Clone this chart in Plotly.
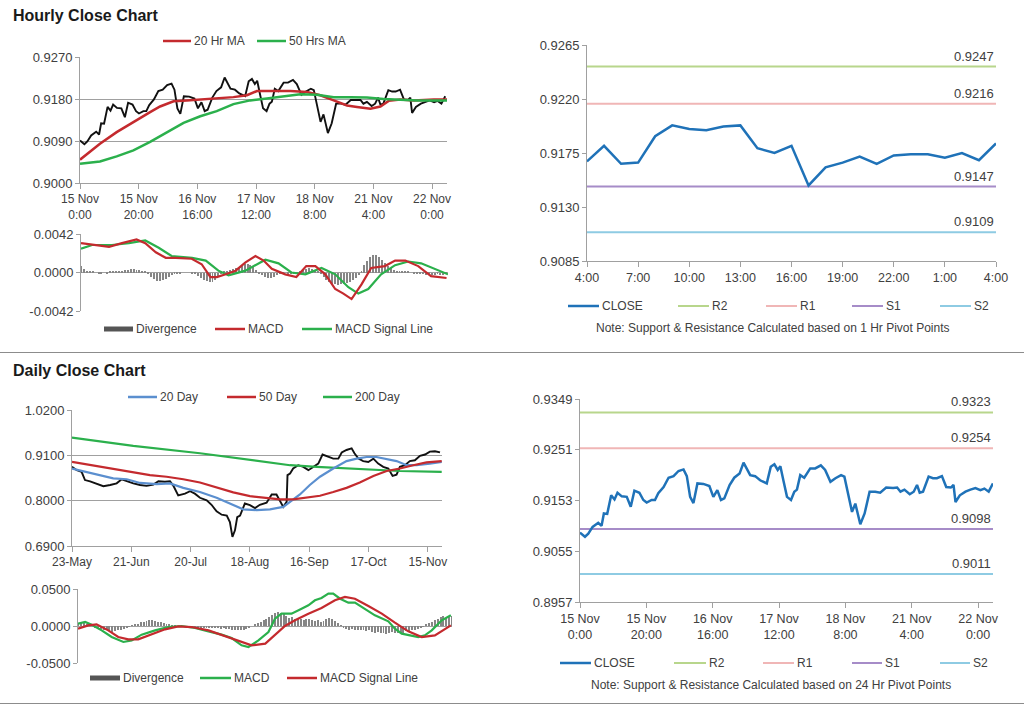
import plotly.graph_objects as go

W, H = 1024, 706
def px(x): return x / W
def py(y): return 1 - y / H

# ---------------- DATA ----------------
# Hourly axis (index of hour bars, weekend skipped)
hour_ticks = [0, 20, 40, 60, 80, 100, 120]
hour_tick_text = ["15 Nov<br>0:00", "15 Nov<br>20:00", "16 Nov<br>16:00", "17 Nov<br>12:00",
                  "18 Nov<br>8:00", "21 Nov<br>4:00", "22 Nov<br>0:00"]

hr_x = [0, 1.5, 2.5, 3.8, 5.5, 6.5, 7.2, 8.2, 9.4, 10.4,
        11.3, 12.6, 14.1, 15.3, 16.4, 17.9, 19.1, 20.1, 21.6, 22.6,
        23.6, 25.2, 26.7, 28.2, 29.7, 31.2, 32.2, 33.2, 34.2, 35.4,
        37.2, 39.0, 40.2, 41.4, 42.5, 43.5, 45.1, 46.5, 48.1, 49.3,
        51.3, 52.8, 54.3, 56.3, 57.5, 58.6, 59.6, 60.4, 61.4, 62.4,
        63.6, 64.6, 65.4, 66.4, 67.6, 69.4, 70.9, 72.6, 73.9, 75.5,
        77.0, 78.7, 79.7, 80.7, 82.0, 83.0, 83.7, 84.5, 85.8, 87.3,
        89.0, 90.5, 92.3, 94.4, 95.6, 96.6, 97.8, 99.4, 100.6, 101.6,
        102.4, 103.4, 105.1, 106.4, 107.6, 109.1, 110.4, 111.8, 112.6, 113.2,
        114.5, 116.2, 117.7, 119.2, 120.7, 121.9, 123.2, 124.5]
hr_close = [0.9091, 0.9083, 0.9089, 0.9102, 0.9110, 0.9104, 0.9128, 0.9127, 0.9163, 0.9155,
            0.9168, 0.9161, 0.9160, 0.9141, 0.9172, 0.9168, 0.9154, 0.9149, 0.9154, 0.9154,
            0.9167, 0.9179, 0.9197, 0.9200, 0.9210, 0.9213, 0.9200, 0.9160, 0.9148, 0.9186,
            0.9185, 0.9181, 0.9160, 0.9173, 0.9154, 0.9157, 0.9183, 0.9197, 0.9205, 0.9226,
            0.9202, 0.9200, 0.9192, 0.9186, 0.9218, 0.9223, 0.9212, 0.9219, 0.9189, 0.9160,
            0.9154, 0.9170, 0.9174, 0.9202, 0.9197, 0.9215, 0.9215, 0.9221, 0.9212, 0.9189,
            0.9196, 0.9202, 0.9199, 0.9167, 0.9131, 0.9147, 0.9129, 0.9107, 0.9128, 0.9170,
            0.9170, 0.9168, 0.9178, 0.9177, 0.9178, 0.9170, 0.9174, 0.9165, 0.9170, 0.9183,
            0.9168, 0.9170, 0.9199, 0.9196, 0.9196, 0.9200, 0.9179, 0.9178, 0.9183, 0.9150,
            0.9163, 0.9170, 0.9174, 0.9177, 0.9173, 0.9176, 0.9170, 0.9186]

ma20_hr_x = [0, 6.8, 12.5, 18.2, 23.9, 27.3, 31.9, 36.4, 43.2, 47.8, 52.3, 56.9, 60.3, 66.0,
             71.7, 77.4, 81.9, 86.5, 91.0, 94.4, 99.0, 102.4, 105.2, 109.2, 113.8, 120.6, 125.1]
ma20_hr = [0.9050, 0.9084, 0.9109, 0.9131, 0.9152, 0.9164, 0.9175, 0.9177, 0.9180, 0.9182,
           0.9184, 0.9188, 0.9197, 0.9197, 0.9197, 0.9195, 0.9188, 0.9177, 0.9166, 0.9163,
           0.9159, 0.9164, 0.9176, 0.9179, 0.9177, 0.9179, 0.9179]
ma50_hr_x = [0, 6.8, 12.5, 18.2, 23.9, 29.6, 35.3, 41.0, 46.6, 52.3, 58.0, 63.7, 69.4, 75.1,
             80.8, 86.5, 92.2, 97.8, 103.5, 109.2, 114.9, 125.1]
ma50_hr = [0.9041, 0.9046, 0.9057, 0.9070, 0.9088, 0.9109, 0.9129, 0.9143, 0.9154, 0.9169,
           0.9177, 0.9181, 0.9186, 0.9190, 0.9189, 0.9184, 0.9184, 0.9183, 0.9180, 0.9179,
           0.9177, 0.9177]

macd_hr_x = [0, 6, 9.6, 14, 19, 22, 25.6, 29, 32.4, 37.9, 41.3, 44.3, 46.5, 49.5, 52.9, 56.3,
             59.7, 62.5, 65.3, 69.9, 73.7, 77.1, 80.2, 83.6, 87, 89.8, 92.6, 96, 99.3, 104,
             107.5, 111, 115.4, 119.8, 125.1]
macd_hr = [0.0032, 0.0030, 0.0028, 0.0032, 0.0036, 0.0032, 0.0022, 0.0016, 0.0016, 0.0015,
           0.0009, -0.0005, -0.0005, -0.0002, 0.0002, 0.0011, 0.0018, 0.0013, 0.0004, -0.0002,
           -0.0005, 0.0007, 0.0007, -0.0002, -0.0018, -0.0023, -0.0029, -0.0013, 0.0005, 0.0007,
           0.0013, 0.0013, 0.0007, -0.0004, -0.0006]
signal_hr_x = [0, 3.8, 10.6, 16.4, 22, 26.6, 31, 38, 42.7, 47, 50.5, 56.3, 63.1, 67.6, 72,
               76.8, 82.3, 87, 91.5, 94.9, 98.3, 102.7, 107.5, 112, 116.4, 121.2, 125.6]
signal_hr = [0.0026, 0.0030, 0.0030, 0.0032, 0.0035, 0.0027, 0.0018, 0.0016, 0.0013, 0.0002,
             -0.0003, 0.0002, 0.0014, 0.0010, 0.0000, -0.0002, 0.0005, -0.0002, -0.0016, -0.0023,
             -0.0018, -0.0002, 0.0008, 0.0012, 0.0010, 0.0004, -0.0002]
divergence_hr = [0.0007, 0.0004, 0.0002, 0.0001, 0.0001, 0.0, -0.0001, -0.0001, 0.0, -0.0001,
                 0.0001, 0.0001, 0.0001, 0.0002, 0.0002, 0.0003, 0.0003, 0.0004, 0.0004, 0.0003,
                 0.0003, 0.0002, 0.0001, -0.0002, -0.0005, -0.0007, -0.0009, -0.0009, -0.0008, -0.0007,
                 -0.0005, -0.0003, -0.0002, -0.0001, -0.0001, 0.0, 0.0, 0.0, -0.0001, -0.0002,
                 -0.0004, -0.0006, -0.0008, -0.0009, -0.0010, -0.0010, -0.0008, -0.0005, -0.0002, 0.0001,
                 0.0002, 0.0003, 0.0004, 0.0005, 0.0006, 0.0008, 0.0009, 0.0009, 0.0008, 0.0006,
                 0.0003, -0.0001, -0.0003, -0.0005, -0.0006, -0.0006, -0.0005, -0.0003, -0.0002, -0.0001,
                 0.0, -0.0001, -0.0002, -0.0002, -0.0001, 0.0001, 0.0003, 0.0004, 0.0005, 0.0004,
                 0.0003, 0.0001, -0.0002, -0.0005, -0.0008, -0.0010, -0.0012, -0.0013, -0.0014, -0.0013,
                 -0.0012, -0.0011, -0.0010, -0.0008, -0.0006, -0.0003, 0.0002, 0.0008, 0.0013, 0.0017,
                 0.0019, 0.0019, 0.0017, 0.0014, 0.0010, 0.0007, 0.0005, 0.0003, 0.0002, 0.0002,
                 0.0001, 0.0001, 0.0001, 0.0, -0.0001, -0.0001, -0.0002, -0.0002, -0.0003, -0.0002,
                 -0.0003, -0.0003, -0.0002, -0.0003, -0.0003, -0.0002]

# Last 24 hours (hourly pivot chart)
last24_hours = ["4:00", "5:00", "6:00", "7:00", "8:00", "9:00", "10:00", "11:00", "12:00",
                "13:00", "14:00", "15:00", "16:00", "17:00", "18:00", "19:00", "20:00", "21:00",
                "22:00", "23:00", "0:00", "1:00", "2:00", "3:00", "4:00"]
last24_close = [0.9168, 0.9181, 0.9166, 0.9167, 0.9189, 0.9198, 0.9195, 0.9194, 0.9197,
                0.9198, 0.9179, 0.9175, 0.9181, 0.9148, 0.9163, 0.9167, 0.9172, 0.9166,
                0.9173, 0.9174, 0.9174, 0.9171, 0.9175, 0.9169, 0.9183]

pivot_names = ["R2", "R1", "S1", "S2"]
pivot_1hr = [0.9247, 0.9216, 0.9147, 0.9109]
pivot_24hr = [0.9323, 0.9254, 0.9098, 0.9011]

# Daily chart
day_ticks = [0, 21, 42, 63, 84, 105, 126]
day_tick_text = ["23-May", "21-Jun", "20-Jul", "18-Aug", "16-Sep", "17-Oct", "15-Nov"]

day_x = [0, 1.7, 3.4, 4.6, 6.4, 8.7, 11.1, 13.5, 15.8, 17.6,
         19.4, 21.7, 24.1, 26.4, 28.8, 30.6, 32.9, 34.7, 35.9, 37.6,
         40, 41.8, 43.5, 45.3, 47.7, 49.4, 51.2, 53, 54.8, 55.9,
         56.8, 57.7, 58.5, 59.5, 61.2, 63, 64.8, 66.5, 68.9, 70.7,
         72.4, 73.6, 74.8, 76, 76.3, 77.2, 78.3, 80.1, 81.9, 83.7,
         85.4, 87.2, 88.7, 90.7, 92.5, 94.3, 95.5, 97.2, 99, 100,
         101.4, 103.1, 104.9, 106.7, 108.4, 110.2, 112, 113.5, 114.9, 116.1,
         117.9, 119.6, 121.4, 123.2, 125, 126.7, 128.5, 130.3]
day_close = [0.882, 0.874, 0.870, 0.850, 0.847, 0.842, 0.835, 0.838, 0.842, 0.852,
             0.847, 0.842, 0.838, 0.836, 0.839, 0.847, 0.846, 0.847, 0.836, 0.813,
             0.817, 0.823, 0.817, 0.807, 0.801, 0.790, 0.774, 0.766, 0.764, 0.748,
             0.712, 0.728, 0.760, 0.764, 0.793, 0.789, 0.782, 0.790, 0.795, 0.815,
             0.815, 0.799, 0.785, 0.797, 0.862, 0.866, 0.878, 0.886, 0.882, 0.874,
             0.882, 0.890, 0.912, 0.906, 0.902, 0.902, 0.917, 0.923, 0.927, 0.915,
             0.902, 0.896, 0.894, 0.902, 0.890, 0.882, 0.878, 0.860, 0.863, 0.882,
             0.886, 0.896, 0.898, 0.909, 0.912, 0.919, 0.920, 0.917]

ma20_day_x = [0, 5.2, 9.9, 14.6, 19.4, 24.1, 30, 34.7, 39.4, 45.3, 51.2, 57.1, 60.6, 65.4,
              70.1, 74.8, 77.2, 80.7, 84.2, 87.8, 92.5, 97.2, 100.8, 104.3, 107.8, 111.4,
              114.9, 118.5, 122, 126.7, 130.9]
ma20_day = [0.878, 0.870, 0.863, 0.854, 0.852, 0.843, 0.840, 0.842, 0.831, 0.821, 0.807,
            0.789, 0.779, 0.777, 0.779, 0.785, 0.797, 0.815, 0.838, 0.858, 0.878, 0.896,
            0.902, 0.906, 0.906, 0.901, 0.896, 0.886, 0.886, 0.890, 0.894]
ma50_day_x = [0, 5.2, 9.9, 15.8, 21.7, 27.6, 33.5, 39.4, 45.3, 51.2, 57.1, 63, 68.9, 73.6,
              78.3, 83.1, 87.8, 92.5, 97.2, 101.9, 106.7, 111.4, 116.1, 120.8, 125.5, 130.9]
ma50_day = [0.894, 0.888, 0.882, 0.874, 0.868, 0.862, 0.858, 0.852, 0.844, 0.832, 0.820,
            0.811, 0.807, 0.803, 0.803, 0.807, 0.812, 0.821, 0.831, 0.844, 0.860, 0.872,
            0.878, 0.886, 0.893, 0.896]
ma200_day_x = [0, 21.7, 45.3, 68.9, 77.2, 86.6, 104.3, 116.1, 130.9]
ma200_day = [0.953, 0.933, 0.915, 0.894, 0.886, 0.882, 0.876, 0.872, 0.870]

macd_day_x = [0, 2.5, 4.8, 8.3, 11.8, 15.9, 18.8, 22.3, 27, 31.6, 36.3, 41, 45.7, 50.3,
              53.8, 57.3, 59.7, 63.2, 66.7, 69, 71.3, 74.8, 78.3, 80.7, 83, 85.3, 87.7,
              89.4, 91.8, 94.7, 97, 100.5, 104, 108.7, 111, 113.4, 115.7, 119.2, 121.5,
              123.9, 127.4, 130.6]
macd_day = [0.0032, 0.0054, 0.0018, -0.0059, -0.0149, -0.0216, -0.0194, -0.0117, -0.0059,
            -0.0014, 0.0, -0.0027, -0.0072, -0.0117, -0.0162, -0.0261, -0.0284, -0.0194,
            -0.0081, 0.0099, 0.0167, 0.0167, 0.0234, 0.0279, 0.0347, 0.0378, 0.0437, 0.0437,
            0.0369, 0.0315, 0.0315, 0.0234, 0.0144, 0.0063, -0.0036, -0.0104, -0.0126,
            -0.0149, -0.0126, -0.0059, 0.0077, 0.0144]
signal_day_x = [0, 3.6, 6.5, 10.6, 14.1, 17.6, 21.1, 25.8, 30.5, 35.1, 39.8, 45.7, 51.5,
                56.2, 60.8, 65.6, 69, 72.5, 76, 80.7, 85.3, 90, 93.5, 97, 101.7, 106.4, 111,
                115.7, 120.4, 125, 130.6]
signal_day = [-0.0036, 0.0009, 0.0023, -0.0059, -0.0149, -0.0180, -0.0180, -0.0117, -0.0045,
              -0.0005, -0.0014, -0.0059, -0.0135, -0.0207, -0.0261, -0.0239, -0.0126, 0.0,
              0.0077, 0.0167, 0.0243, 0.0347, 0.0392, 0.0369, 0.0270, 0.0167, 0.0045, -0.0072,
              -0.0149, -0.0126, 0.0009]
divergence_day = [0.003, 0.004, 0.004, 0.003, 0.002, 0.0, -0.002, -0.003, -0.004, -0.005,
                  -0.006, -0.007, -0.008, -0.007, -0.006, -0.005, -0.004, -0.002, -0.001, 0.001,
                  0.002, 0.003, 0.005, 0.006, 0.007, 0.008, 0.008, 0.007, 0.006, 0.005,
                  0.004, 0.003, 0.002, 0.001, 0.001, 0.0, 0.0, -0.001, -0.001, -0.001,
                  -0.002, -0.002, -0.002, -0.003, -0.002, -0.003, -0.003, -0.002, -0.003, -0.003,
                  -0.004, -0.003, -0.004, -0.004, -0.005, -0.005, -0.006, -0.006, -0.005, -0.004,
                  -0.002, 0.0, 0.002, 0.004, 0.006, 0.008, 0.010, 0.012, 0.015, 0.017,
                  0.019, 0.018, 0.016, 0.013, 0.011, 0.012, 0.010, 0.009, 0.009, 0.008,
                  0.009, 0.010, 0.008, 0.007, 0.008, 0.006, 0.007, 0.009, 0.011, 0.009,
                  0.007, 0.004, 0.001, -0.002, -0.004, -0.005, -0.004, -0.006, -0.005, -0.006,
                  -0.005, -0.007, -0.006, -0.008, -0.009, -0.008, -0.010, -0.009, -0.011, -0.010,
                  -0.008, -0.009, -0.010, -0.011, -0.009, -0.007, -0.008, -0.005, -0.006, -0.004,
                  -0.003, -0.001, 0.002, 0.004, 0.006, 0.008, 0.010, 0.012, 0.013, 0.011,
                  0.012, 0.013]

# ---------------- STYLE ----------------
FONT = "Liberation Sans, Arial, sans-serif"
TXT = "#404040"
AX = "#a0a0a0"
RED = "#c42a2e"
GREEN = "#2bb04c"
BLUE_MA = "#5b8fcf"
CLOSE_BLUE = "#1f72b8"
GRAY_BAR = "#868686"
PIVOT_COLORS = ["#b8d68c", "#f0b6b6", "#a68cc8", "#8ecbe3"]

fig = go.Figure()

def line(x, y, color, width, ax):
    fig.add_trace(go.Scatter(x=x, y=y, mode="lines", line=dict(color=color, width=width),
                             xaxis="x" + ax, yaxis="y" + ax, showlegend=False, hoverinfo="skip"))

# 1 - hourly price
line(hr_x, hr_close, "#111111", 1.9, "")
line(ma20_hr_x, ma20_hr, RED, 2.5, "")
line(ma50_hr_x, ma50_hr, GREEN, 2.5, "")
# 2 - hourly MACD
fig.add_trace(go.Bar(x=list(range(len(divergence_hr))), y=divergence_hr, width=0.33,
                     marker=dict(color=GRAY_BAR, line=dict(width=0)), xaxis="x2", yaxis="y2",
                     showlegend=False, hoverinfo="skip"))
line(signal_hr_x, signal_hr, GREEN, 2.2, "2")
line(macd_hr_x, macd_hr, RED, 2.2, "2")
# 3 - last 24 hours with pivots
for lvl, col in zip(pivot_1hr, PIVOT_COLORS):
    line([0, len(last24_close) - 1], [lvl, lvl], col, 2, "3")
line(list(range(len(last24_close))), last24_close, CLOSE_BLUE, 2.5, "3")
# 4 - daily price
line(day_x, day_close, "#111111", 1.9, "4")
line(ma200_day_x, ma200_day, GREEN, 2.2, "4")
line(ma20_day_x, ma20_day, BLUE_MA, 2.2, "4")
line(ma50_day_x, ma50_day, RED, 2.2, "4")
# 5 - daily MACD
fig.add_trace(go.Bar(x=list(range(len(divergence_day))), y=divergence_day, width=0.33,
                     marker=dict(color=GRAY_BAR, line=dict(width=0)), xaxis="x5", yaxis="y5",
                     showlegend=False, hoverinfo="skip"))
line(macd_day_x, macd_day, GREEN, 2.2, "5")
line(signal_day_x, signal_day, RED, 2.2, "5")
# 6 - hourly close with 24 hr pivots
for lvl, col in zip(pivot_24hr, PIVOT_COLORS):
    line([0, hr_x[-1]], [lvl, lvl], col, 2, "6")
line(hr_x, hr_close, CLOSE_BLUE, 2.5, "6")

ytickfont = dict(family=FONT, size=13, color=TXT)

def xax(x0, x1, rng, tickvals=None, ticktext=None, show=True, anchor="y", size=12.5):
    d = dict(domain=[px(x0), px(x1)], range=rng, anchor=anchor, showgrid=False, zeroline=False,
             fixedrange=True, automargin=False)
    if show:
        d.update(showline=True, linecolor=AX, linewidth=1, ticks="outside", tickcolor=AX,
                 ticklen=5, tickvals=tickvals, ticktext=ticktext,
                 tickfont=dict(family=FONT, size=size, color=TXT))
    else:
        d.update(showline=False, showticklabels=False, ticks="")
    return d

def yax(y0, y1, rng, tickvals, ticktext=None, grid=True, anchor="x", fmt=".4f"):
    d = dict(domain=[py(y1), py(y0)], range=rng, anchor=anchor, showline=True, linecolor=AX,
             linewidth=1, ticks="outside", tickcolor=AX, ticklen=4, tickvals=tickvals,
             showgrid=grid, gridcolor=AX, gridwidth=1, zeroline=False, tickfont=ytickfont,
             fixedrange=True, automargin=False)
    if ticktext is not None:
        d["ticktext"] = ticktext
    else:
        d["tickformat"] = fmt
    return d

hr_price_ticks = [0.9000, 0.9090, 0.9180, 0.9270]
macd_hr_ticks = [-0.0042, 0.0, 0.0042]
macd_hr_text = ["-0.0042", "0.0000", "0.0042"]
last24_ticks = [0.9085, 0.9130, 0.9175, 0.9220, 0.9265]
day_price_ticks = [0.6900, 0.8000, 0.9100, 1.0200]
macd_day_ticks = [-0.05, 0.0, 0.05]
macd_day_text = ["-0.0500", "0.0000", "0.0500"]
pivot24_ticks = [0.8957, 0.9055, 0.9153, 0.9251, 0.9349]

fig.update_layout(
    width=W, height=H, autosize=False,
    margin=dict(l=0, r=0, t=0, b=0, pad=0, autoexpand=False),
    paper_bgcolor="white", plot_bgcolor="white", font=dict(family=FONT, color=TXT),
    showlegend=False, bargap=0,
    xaxis=xax(80, 447, [0, 125.1], hour_ticks, hour_tick_text, anchor="y", size=12),
    yaxis=yax(57, 183, [0.9000, 0.9270], hr_price_ticks, anchor="x"),
    xaxis2=xax(81, 448, [0, 125.6], show=False, anchor="y2"),
    yaxis2=yax(234, 311, [-0.0042, 0.0042], macd_hr_ticks, macd_hr_text, anchor="x2"),
    xaxis3=xax(587, 996, [0, 24], list(range(0, 25, 3)), last24_hours[::3], anchor="y3"),
    yaxis3=yax(45, 261, [0.9085, 0.9265], last24_ticks, grid=False, anchor="x3"),
    xaxis4=xax(72, 442, [0, 131], day_ticks, day_tick_text, anchor="y4", size=12),
    yaxis4=yax(410, 546, [0.69, 1.02], day_price_ticks, anchor="x4"),
    xaxis5=xax(78, 452, [0, 131], show=False, anchor="y5"),
    yaxis5=yax(589, 663, [-0.05, 0.05], macd_day_ticks, macd_day_text, anchor="x5"),
    xaxis6=xax(580, 993, [0, 124.5], hour_ticks, hour_tick_text, anchor="y6"),
    yaxis6=yax(399, 602, [0.8957, 0.9349], pivot24_ticks, grid=False, anchor="x6"),
)

shapes = []
annotations = []

def text(x, y, s, size=12, anchor="left", color=TXT):
    annotations.append(dict(xref="paper", yref="paper", x=px(x), y=py(y), text=s,
                            showarrow=False, xanchor=anchor, yanchor="middle",
                            font=dict(family=FONT, size=size, color=color)))

def legend_item(x0, x1, y, color, width, label):
    shapes.append(dict(type="line", xref="paper", yref="paper", x0=px(x0), x1=px(x1),
                       y0=py(y), y1=py(y), line=dict(color=color, width=width)))
    text(x1 + 1, y, label)

# Titles and separators
text(11, 16, "<b>Hourly Close Chart</b>", size=16, color="#1a1a1a")
text(11, 370, "<b>Daily Close Chart</b>", size=16, color="#1a1a1a")
for yy in (352.5, 703.5):
    shapes.append(dict(type="line", xref="paper", yref="paper", x0=0, x1=1, y0=py(yy), y1=py(yy),
                       line=dict(color="#8c8c8c", width=1)))

# Legends
legend_item(163, 191, 41, RED, 2.5, "20 Hr MA")
legend_item(257, 286, 41, GREEN, 2.5, "50 Hrs MA")
legend_item(104, 133, 329, "#555555", 5, "Divergence")
legend_item(215, 245, 329, RED, 2.5, "MACD")
legend_item(302, 332, 329, GREEN, 2.5, "MACD Signal Line")
legend_item(568, 599, 306, CLOSE_BLUE, 2.5, "CLOSE")
legend_item(128, 157, 397, BLUE_MA, 2.5, "20 Day")
legend_item(227, 256, 397, RED, 2.5, "50 Day")
legend_item(323, 352, 397, GREEN, 2.5, "200 Day")
legend_item(90, 120, 678, "#555555", 5, "Divergence")
legend_item(200, 231, 678, GREEN, 2.5, "MACD")
legend_item(287, 317, 678, RED, 2.5, "MACD Signal Line")
legend_item(560, 591, 663, CLOSE_BLUE, 2.5, "CLOSE")
for name, col, xa, xb in zip(pivot_names, PIVOT_COLORS, [678, 766, 852, 940], [709, 797, 883, 971]):
    legend_item(xa, xb, 306, col, 2, name)
for name, col, xa, xb in zip(pivot_names, PIVOT_COLORS, [674, 763, 852, 940], [706, 794, 882, 970]):
    legend_item(xa, xb, 663, col, 2, name)

text(773, 328, "Note: Support &amp; Resistance Calculated based on 1 Hr Pivot Points", anchor="center")
text(771, 685, "Note: Support &amp; Resistance Calculated based on 24 Hr Pivot Points", anchor="center")

# Pivot level labels
for lvl in pivot_1hr:
    annotations.append(dict(xref="x3", yref="y3", x=24, y=lvl, text=f"{lvl:.4f}", showarrow=False,
                            xanchor="right", yanchor="bottom", yshift=1,
                            font=dict(family=FONT, size=13, color=TXT)))
for lvl in pivot_24hr:
    annotations.append(dict(xref="x6", yref="y6", x=hr_x[-1], y=lvl, text=f"{lvl:.4f}", showarrow=False,
                            xanchor="right", yanchor="bottom", yshift=1,
                            font=dict(family=FONT, size=13, color=TXT)))

fig.update_layout(shapes=shapes, annotations=annotations)
fig.write_html("out.html", config={"displayModeBar": False},
               post_script="document.body.style.margin='0';document.body.style.overflow='hidden';")
